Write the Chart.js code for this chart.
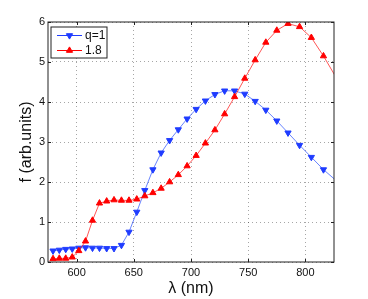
<!DOCTYPE html>
<html>
<head>
<meta charset="utf-8">
<script src="https://cdn.jsdelivr.net/npm/chart.js@4.4.1/dist/chart.umd.min.js"></script>
<style>
  body { margin: 0; background: #fff; }
  canvas { display: block; }
</style>
</head>
<body>
<canvas id="myChart" width="368" height="299"></canvas>
<script>
// wavelengths of the markers (nm)
var wavelengths = [579.4, 584.9, 590.5, 596.2, 601.9, 607.8, 613.9, 620.0, 626.3, 632.7,
  639.2, 645.8, 652.6, 659.6, 666.7, 673.9, 681.3, 688.9, 696.6, 704.5,
  712.6, 720.9, 729.4, 738.1, 747.0, 756.1, 765.4, 775.0, 784.8, 794.9,
  805.2, 815.8, 826.7];

// f (arb.units) for q=1
var fQ1 = [0.28, 0.30, 0.32, 0.33, 0.35, 0.36, 0.35, 0.35, 0.34, 0.34,
  0.42, 0.75, 1.25, 1.79, 2.31, 2.73, 3.04, 3.31, 3.58, 3.82,
  4.03, 4.19, 4.28, 4.28, 4.20, 4.02, 3.80, 3.53, 3.23, 2.92,
  2.62, 2.31, 2.04];

// f (arb.units) for q=1.8
var fQ18 = [0.08, 0.09, 0.09, 0.12, 0.28, 0.52, 1.04, 1.47, 1.52, 1.55,
  1.54, 1.54, 1.57, 1.65, 1.73, 1.84, 2.00, 2.18, 2.40, 2.66,
  2.97, 3.30, 3.70, 4.13, 4.59, 5.05, 5.49, 5.79, 5.96, 5.88,
  5.61, 5.15, 4.62];

var seriesLabels = ['q=1', '1.8'];
var xTicks = [600, 650, 700, 750, 800];
var yTicks = [0, 1, 2, 3, 4, 5, 6];
var xMin = 575, xMax = 825;

var blue = '#1f3cff';
var red = '#ff0000';
var fontFamily = "'Liberation Sans', Arial, Helvetica, sans-serif";

function toPoints(ys) {
  return wavelengths.map(function(w, i) { return { x: w, y: ys[i] }; });
}

// hide markers whose point lies outside the axes (like matlab does)
function markerRadius(c) {
  return c.raw && c.raw.x > xMax ? 0 : 3.6;
}

// box, inward tick marks and the legend
var framePlugin = {
  id: 'frame',
  afterDraw: function(chart) {
    var ctx = chart.ctx;
    var a = chart.chartArea;
    var xs = chart.scales.x, ys = chart.scales.y;
    ctx.save();
    ctx.strokeStyle = '#222';
    ctx.lineWidth = 1;
    ctx.beginPath();
    xTicks.forEach(function(v) {
      var px = Math.round(xs.getPixelForValue(v)) + 0.5;
      ctx.moveTo(px, a.bottom); ctx.lineTo(px, a.bottom - 3);
      ctx.moveTo(px, a.top); ctx.lineTo(px, a.top + 3);
    });
    yTicks.forEach(function(v) {
      var py = Math.round(ys.getPixelForValue(v)) + 0.5;
      ctx.moveTo(a.left, py); ctx.lineTo(a.left + 3, py);
      ctx.moveTo(a.right, py); ctx.lineTo(a.right - 3, py);
    });
    ctx.stroke();
    ctx.strokeRect(a.left, a.top, a.right - a.left, a.bottom - a.top);

    // legend
    var lx = 51, ly = 27, lw = 56, lh = 31;
    ctx.fillStyle = '#fff';
    ctx.fillRect(lx, ly, lw, lh);
    ctx.strokeStyle = '#222';
    ctx.strokeRect(lx, ly, lw, lh);
    var colors = [blue, red];
    var rots = [180, 0];
    for (var i = 0; i < seriesLabels.length; i++) {
      var rowY = ly + 8.5 + i * 15;
      ctx.strokeStyle = colors[i];
      ctx.lineWidth = 1;
      ctx.beginPath();
      ctx.moveTo(lx + 6, rowY);
      ctx.lineTo(lx + 31, rowY);
      ctx.stroke();
      ctx.fillStyle = colors[i];
      Chart.helpers.drawPoint(ctx, { pointStyle: 'triangle', radius: 3.6, rotation: rots[i], borderWidth: 1 }, lx + 18.5, rowY);
      ctx.fillStyle = '#111';
      ctx.font = '12px ' + fontFamily;
      ctx.textBaseline = 'middle';
      ctx.textAlign = 'left';
      ctx.fillText(seriesLabels[i], lx + 34, rowY + 0.5);
    }
    ctx.restore();
  }
};

var ctx = document.getElementById('myChart').getContext('2d');

var myChart = new Chart(ctx, {
  type: 'line',
  data: {
    datasets: [
      {
        label: seriesLabels[0],
        data: toPoints(fQ1),
        borderColor: 'rgba(40, 80, 255, 0.7)',
        backgroundColor: blue,
        pointBorderColor: blue,
        pointBackgroundColor: blue,
        borderWidth: 1,
        pointStyle: 'triangle',
        pointRotation: 180,
        pointRadius: markerRadius,
        pointBorderWidth: 1,
        tension: 0,
        order: 1
      },
      {
        label: seriesLabels[1],
        data: toPoints(fQ18),
        borderColor: 'rgba(255, 30, 30, 0.75)',
        backgroundColor: red,
        pointBorderColor: red,
        pointBackgroundColor: red,
        borderWidth: 1,
        pointStyle: 'triangle',
        pointRotation: 0,
        pointRadius: markerRadius,
        pointBorderWidth: 1,
        tension: 0,
        order: 0
      }
    ]
  },
  options: {
    responsive: false,
    animation: false,
    devicePixelRatio: 1,
    layout: { padding: { left: 0, top: 22, right: 34, bottom: 0 } },
    plugins: {
      legend: { display: false },
      tooltip: { enabled: false }
    },
    scales: {
      x: {
        type: 'linear',
        min: xMin,
        max: xMax,
        afterBuildTicks: function(s) { s.ticks = xTicks.map(function(v) { return { value: v }; }); },
        afterFit: function(s) { s.height = 37; },
        grid: { color: 'rgba(0,0,0,0.35)', lineWidth: 1, drawTicks: false },
        border: { display: false, dash: [1, 3] },
        ticks: {
          padding: 4,
          color: '#111',
          maxRotation: 0,
          font: { family: fontFamily, size: 11 }
        },
        title: {
          display: true,
          text: 'λ (nm)',
          color: '#111',
          padding: { top: 0, bottom: 1 },
          font: { family: fontFamily, size: 16, lineHeight: 1.2 }
        }
      },
      y: {
        min: 0,
        max: 6,
        afterBuildTicks: function(s) { s.ticks = yTicks.map(function(v) { return { value: v }; }); },
        afterFit: function(s) { s.width = 48; },
        grid: { color: 'rgba(0,0,0,0.35)', lineWidth: 1, drawTicks: false },
        border: { display: false, dash: [1, 3] },
        ticks: {
          padding: 3,
          color: '#111',
          font: { family: fontFamily, size: 11 }
        },
        title: {
          display: true,
          text: 'f (arb.units)',
          color: '#111',
          padding: { top: 17, bottom: 0 },
          font: { family: fontFamily, size: 16, lineHeight: 1.2 }
        }
      }
    }
  },
  plugins: [framePlugin]
});
</script>
</body>
</html>
